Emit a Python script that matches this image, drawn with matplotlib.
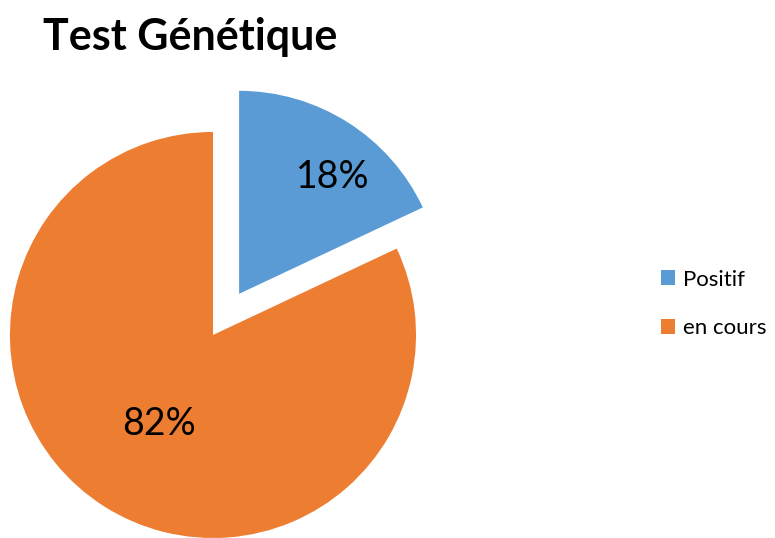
import matplotlib.pyplot as plt
import numpy as np

labels = ["Positif", "en cours"]
values = [18, 82]
colors = ["#5B9BD5", "#ED7D31"]
explode = [0.24, 0]
label_dist = [0.75, 0.5]
label_turn = [-5.5, 0]  # degrees, small nudge of the label along the arc

fig = plt.figure(figsize=(7.75, 5.38), dpi=100, facecolor="white")
ax = fig.add_axes([0, 0, 1, 1])

wedges, texts, autotexts = ax.pie(values, colors=colors, explode=explode,
                                  startangle=90, counterclock=False,
                                  autopct="%1.0f%%", radius=1,
                                  textprops={"fontsize": 27, "family": "Lato"})

# put the percentage labels where the reference has them
for w, t, d, a in zip(wedges, autotexts, label_dist, label_turn):
    mid = np.deg2rad((w.theta1 + w.theta2) / 2 + a)
    cx, cy = w.center
    t.set_position((cx + d * np.cos(mid), cy + d * np.sin(mid)))
    t.set_ha("center")
    t.set_va("center_baseline")

ax.set_xlim(-1.049, 2.768)
ax.set_ylim(-1.0, 1.650)
ax.set_aspect("auto")
ax.axis("off")

fig.text(43 / 775, 1 - 50 / 538, "Test Génétique", fontsize=31,
         fontweight="bold", family="Lato", va="baseline", ha="left")

ax.legend(wedges, labels, loc="center left",
          bbox_to_anchor=(661 / 775, 1 - 304 / 538),
          bbox_transform=fig.transFigure, frameon=False,
          prop={"family": "Lato", "size": 16},
          handlelength=0.63, handleheight=0.63, handletextpad=0.36,
          labelspacing=1.3, borderpad=0, borderaxespad=0)

plt.savefig("out.png", dpi=100)
